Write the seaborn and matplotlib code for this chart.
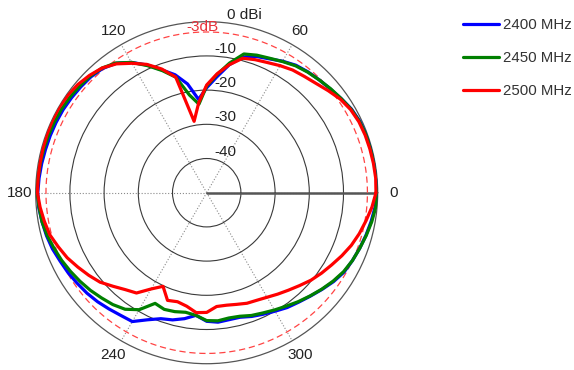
import numpy as np
import pandas as pd
import matplotlib
matplotlib.use("Agg")
import matplotlib.pyplot as plt
import seaborn as sns
from matplotlib.transforms import offset_copy
from matplotlib.lines import Line2D

# ---------------- data (gain in dBi, sampled every 5 degrees, 0..355) -------------
angles_deg = list(range(0, 360, 5))

gain_2400 = [
    -0.2, -0.1, -0.2, -0.2, -0.3, -0.6, -1.1, -2.0, -2.8, -3.4, -3.9, -4.5,
    -5.6, -6.8, -7.6, -8.9, -12.0, -16.0, -19.3, -22.6, -17.7, -14.3, -11.8, -8.8,
    -6.0, -3.8, -2.6, -2.1, -1.9, -1.7, -1.5, -1.4, -1.3, -1.2, -1.0, -0.8,
    -0.6, -0.7, -1.1, -1.5, -2.0, -2.7, -3.2, -3.8, -4.3, -4.9, -5.6, -6.2,
    -6.5, -9.0, -10.8, -11.5, -12.6, -14.0, -12.4, -12.0, -12.3, -12.3, -11.5, -10.8,
    -10.0, -9.0, -8.2, -7.2, -6.0, -4.7, -3.6, -3.0, -2.4, -1.8, -1.2, -0.6,
]
gain_2450 = [
    -0.1, -0.1, -0.2, -0.3, -0.4, -0.7, -1.2, -2.0, -2.7, -3.4, -4.0, -4.7,
    -5.7, -6.6, -7.2, -8.0, -11.5, -15.3, -18.8, -24.0, -21.0, -15.0, -12.0, -9.0,
    -6.0, -3.7, -2.4, -1.8, -1.5, -1.2, -1.0, -0.9, -0.8, -0.7, -0.6, -0.5,
    -0.4, -0.8, -1.1, -1.7, -2.5, -3.2, -4.0, -4.8, -5.6, -6.5, -7.3, -8.4,
    -10.5, -14.3, -13.7, -14.0, -14.5, -14.0, -12.6, -12.4, -12.8, -12.6, -11.8, -11.2,
    -10.4, -9.5, -8.4, -7.3, -6.1, -4.9, -3.8, -3.0, -2.4, -1.7, -1.0, -0.4,
]
gain_2500 = [
    -0.5, -0.4, -0.5, -0.6, -0.7, -0.9, -1.4, -2.3, -3.6, -4.8, -5.6, -6.2,
    -7.1, -8.0, -8.6, -9.3, -12.0, -15.1, -18.5, -23.5, -28.8, -15.0, -11.5, -8.6,
    -6.3, -4.0, -2.4, -1.5, -0.8, -0.4, -0.2, -0.2, -0.3, -0.4, -0.5, -0.5,
    -0.5, -1.1, -1.8, -2.5, -3.8, -5.0, -6.5, -7.9, -9.3, -11.3, -13.0, -14.2,
    -17.5, -19.8, -16.5, -17.0, -16.3, -14.8, -15.0, -16.6, -16.6, -16.2, -15.6, -15.3,
    -14.7, -13.8, -12.8, -11.6, -10.2, -9.0, -7.8, -6.4, -5.0, -3.8, -2.7, -1.5,
]

series_names = ["2400 MHz", "2450 MHz", "2500 MHz"]
series_colors = ["#0000ff", "#008000", "#ff0000"]
angle_ticks = [0, 60, 120, 180, 240, 300]
ring_values = [-10, -20, -30, -40]
r_min, r_max = -50, 0
ref_level = -3

# ---------------- build long-form table (closing each curve) ----------------------
rows = []
for name, gains in zip(series_names, [gain_2400, gain_2450, gain_2500]):
    a = list(angles_deg) + [360]
    g = list(gains) + [gains[0]]
    for ang, val in zip(a, g):
        rows.append({"theta": np.deg2rad(ang), "gain": val, "freq": name})
df = pd.DataFrame(rows)

# ---------------- style --------------------------------------------------------------
sns.set_theme(style="white")
plt.rcParams["font.family"] = ["Liberation Sans", "DejaVu Sans"]

fig = plt.figure(figsize=(5.74, 3.70), dpi=100)
ax = fig.add_axes([0.0622, 0.017, 0.5958, 0.9243], projection="polar")

sns.lineplot(data=df, x="theta", y="gain", hue="freq", palette=series_colors,
             sort=False, estimator=None, linewidth=2.3, ax=ax, legend=False,
             zorder=5)

ax.set_xlabel("")
ax.set_ylabel("")
ax.set_theta_zero_location("E")
ax.set_theta_direction(1)
ax.set_ylim(r_min, r_max)

# grids
ax.set_rgrids(ring_values, labels=[""] * len(ring_values))
ax.set_thetagrids(angle_ticks, labels=[""] * len(angle_ticks))
ax.yaxis.grid(True, color="#3a3a3a", linewidth=0.8, linestyle="-")
ax.xaxis.grid(True, color="#8a8a8a", linewidth=0.8, linestyle=":")
ax.spines["polar"].set_color("#555555")
ax.spines["polar"].set_linewidth(0.9)
ax.tick_params(axis="both", length=0)

# solid 0-degree reference line
ax.plot([0, 0], [r_min, r_max], color="#555555", linewidth=1.8, zorder=3)

# -3 dB reference ring
th = np.linspace(0, 2 * np.pi, 361)
ax.plot(th, np.full_like(th, ref_level), color="#ff4444", linewidth=0.9,
        linestyle=(0, (5, 3)), zorder=4)

# angle labels
rr = 0.5 * 187.0 / 171.0
for a in angle_ticks:
    t = np.deg2rad(a)
    ax.text(0.5 + rr * np.cos(t), 0.5 + rr * np.sin(t), str(a),
            transform=ax.transAxes, ha="center", va="center",
            fontsize=11, color="#222222", clip_on=False)

# radial labels
for v in ring_values:
    tr = offset_copy(ax.transData, fig=fig, x=19, y=7, units="dots")
    ax.text(np.pi / 2, v, str(v), transform=tr, ha="center", va="center",
            fontsize=11, color="#222222", zorder=6)
tr0 = offset_copy(ax.transData, fig=fig, x=38, y=7, units="dots")
ax.text(np.pi / 2, 0, "0 dBi", transform=tr0, ha="center", va="center",
        fontsize=11, color="#222222", clip_on=False)
tr3 = offset_copy(ax.transData, fig=fig, x=-4, y=5, units="dots")
ax.text(np.pi / 2, ref_level, "-3dB", transform=tr3, ha="center", va="center",
        fontsize=11, color="#e8303a", zorder=6)

# legend
handles = [Line2D([0], [0], color=c, linewidth=2.3) for c in series_colors]
leg = fig.legend(handles, series_names, loc="upper left",
                 bbox_to_anchor=(0.806, 0.952), frameon=False, fontsize=10.8,
                 handlelength=2.4, handletextpad=0.3, labelspacing=1.28,
                 borderpad=0, borderaxespad=0)
for t in leg.get_texts():
    t.set_color("#333333")

fig.savefig("out.png", dpi=100)
